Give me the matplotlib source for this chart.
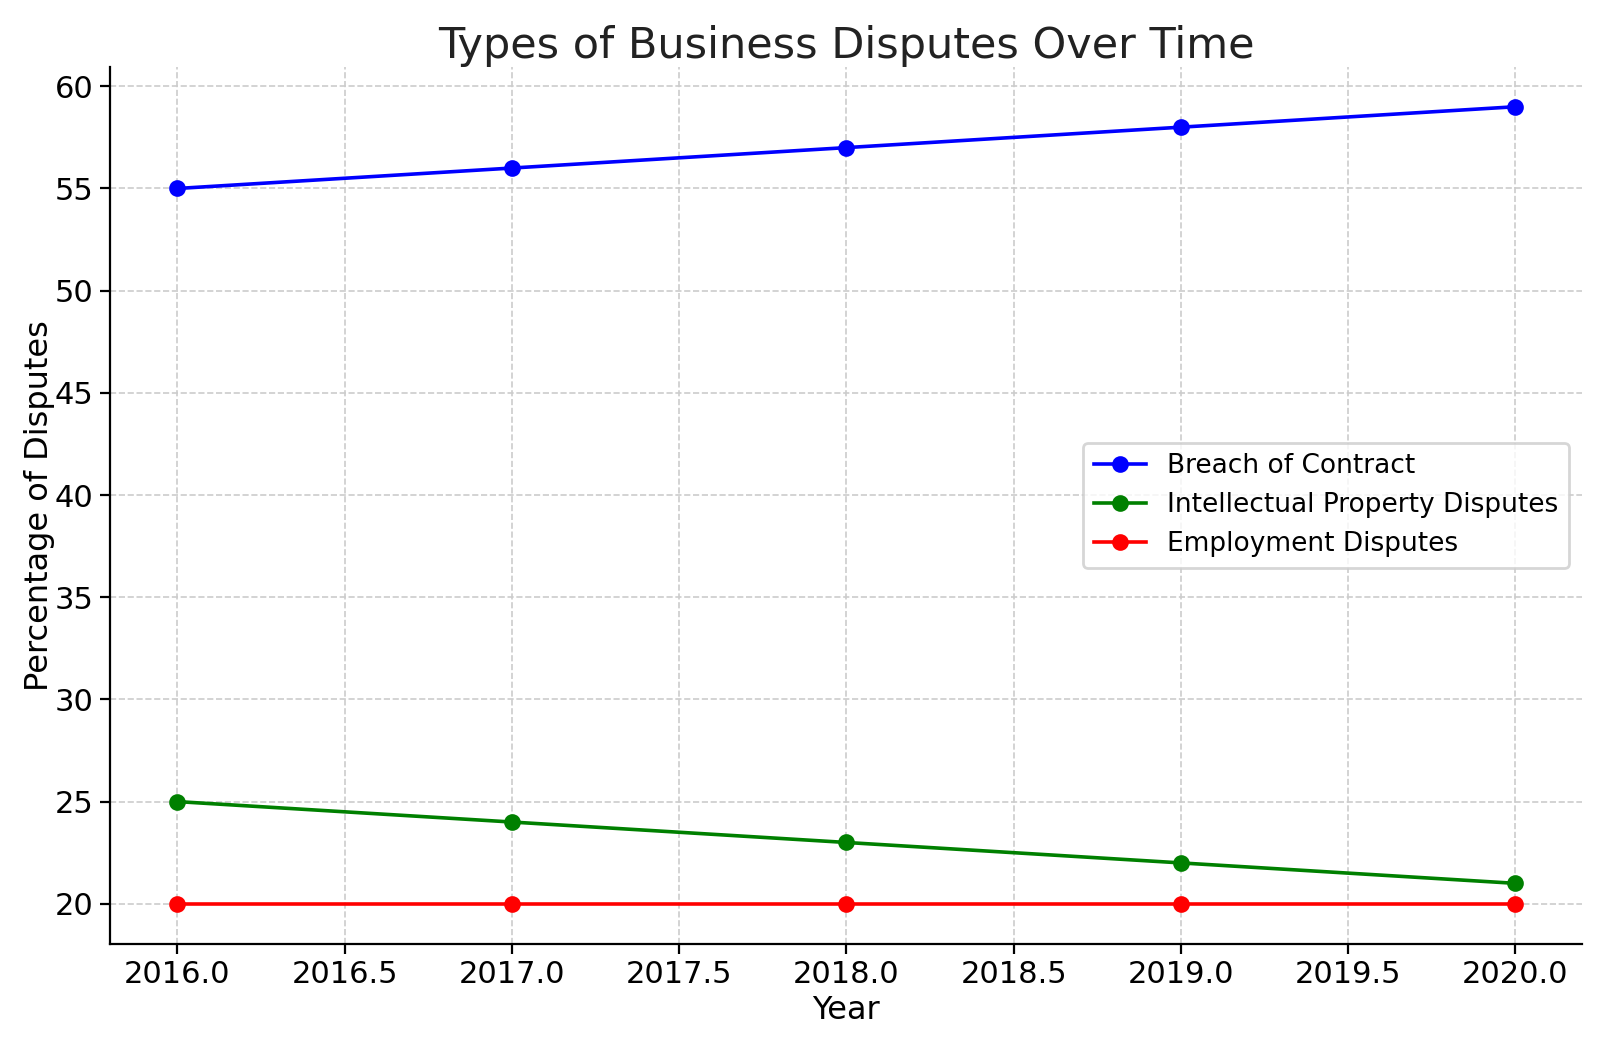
import matplotlib.pyplot as plt

years = [2016, 2017, 2018, 2019, 2020]
breach = [55, 56, 57, 58, 59]
ip = [25, 24, 23, 22, 21]
employment = [20, 20, 20, 20, 20]

fig, ax = plt.subplots(figsize=(8, 5.225), dpi=200)
fig.subplots_adjust(left=0.069, right=0.989, top=0.936, bottom=0.097)

ax.plot(years, breach, marker='o', color='blue', lw=1.3, ms=5, label='Breach of Contract')
ax.plot(years, ip, marker='o', color='green', lw=1.3, ms=5, label='Intellectual Property Disputes')
ax.plot(years, employment, marker='o', color='red', lw=1.3, ms=5, label='Employment Disputes')

ax.set_title('Types of Business Disputes Over Time', fontsize=15.5, color='#222222', pad=3)
ax.set_xlabel('Year', fontsize=11.5, labelpad=2)
ax.set_ylabel('Percentage of Disputes', fontsize=11.5, labelpad=0)
ax.tick_params(labelsize=11, pad=2.5)
ax.grid(True, linestyle='--', color='#cccccc', lw=0.6)
ax.spines['top'].set_visible(False)
ax.spines['right'].set_visible(False)
ax.legend(loc='center right', fontsize=9.5)

plt.savefig('out.png')
